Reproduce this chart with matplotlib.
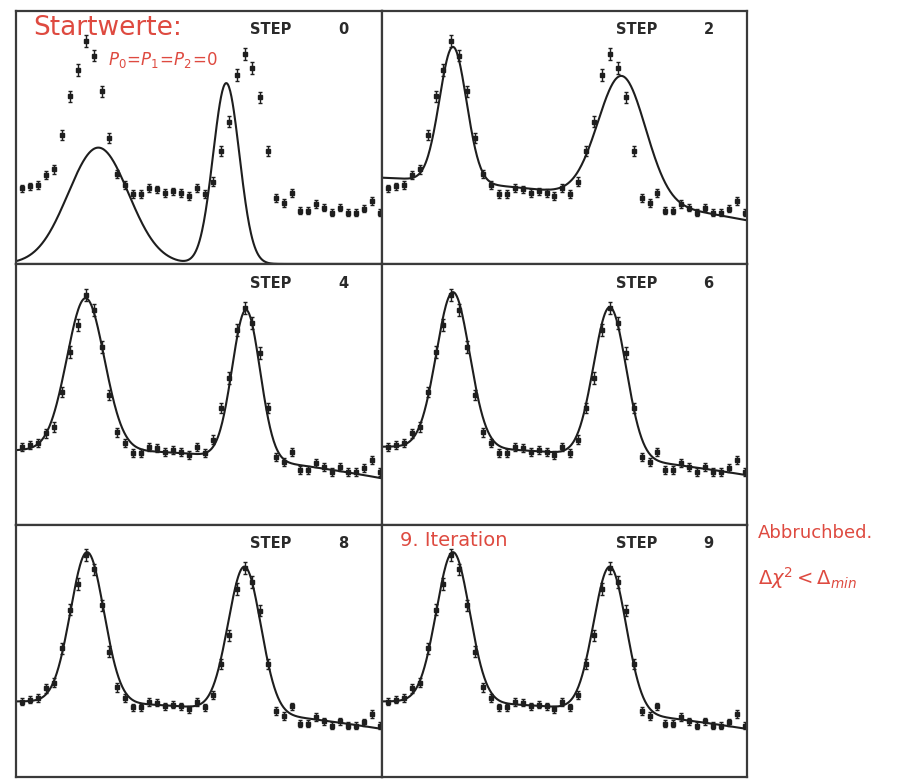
import numpy as np
import matplotlib
matplotlib.use("Agg")
import matplotlib.pyplot as plt

plt.rcParams.update({'font.family': 'DejaVu Sans', 'font.size': 10})

# measured spectrum (same data in every panel)
channel = np.arange(46)
counts = [29.9, 30.7, 31.4, 35.2, 37.5, 51.0, 66.3, 76.6, 88.1, 82.4,
          68.2, 49.8, 35.6, 31.4, 27.6, 27.6, 29.9, 29.5, 28.0, 28.7,
          28.0, 26.8, 29.9, 27.6, 32.6, 44.8, 56.3, 74.7, 83.1, 77.4,
          65.9, 44.8, 26.1, 24.1, 28.0, 21.1, 21.1, 23.8, 22.2, 20.3,
          22.2, 20.3, 20.3, 21.8, 24.9, 20.3]
errors = [1.5, 1.5, 1.6, 1.7, 1.8, 2.0, 2.2, 2.3, 2.4, 2.3,
          2.2, 2.0, 1.7, 1.6, 1.5, 1.5, 1.6, 1.5, 1.5, 1.5,
          1.5, 1.5, 1.6, 1.5, 1.7, 2.0, 2.2, 2.3, 2.4, 2.3,
          2.2, 2.0, 1.5, 1.5, 1.5, 1.4, 1.4, 1.5, 1.4, 1.4,
          1.4, 1.4, 1.4, 1.4, 1.5, 1.4]

# fit parameters per iteration step: quadratic background + two gaussians
steps = [0, 2, 4, 6, 8, 9]
p0 = [0.0, 34.0, 28.7, 30.0, 30.0, 30.0]
p1 = [0.0, -0.152, 0.0827, 0.0125, 0.0125, 0.0125]
p2 = [0.0, -0.0048, -0.0071, -0.0056, -0.0056, -0.0056]
amp1 = [46.0, 53.4, 58.0, 59.5, 59.5, 59.5]
mu1 = [9.6, 8.2, 8.0, 8.2, 8.2, 8.2]
sig1 = [3.8, 1.7, 2.35, 2.1, 2.1, 2.1]
amp2 = [71.5, 49.0, 57.0, 57.5, 57.5, 57.5]
mu2 = [25.7, 29.5, 28.2, 28.0, 28.0, 28.0]
sig2 = [1.65, 3.0, 1.75, 2.05, 2.05, 2.05]

W, H = 901, 779
fig = plt.figure(figsize=(W / 100, H / 100), dpi=100)

col_x = [(16, 382), (382, 747)]
row_y = [(11, 264), (264, 525), (525, 777)]

red = '#de4a40'
ink = '#1e1e1e'
xfine = np.linspace(-0.8, 45.4, 600)

for k, st in enumerate(steps):
    r, c = divmod(k, 2)
    (xl, xr), (yt, yb) = col_x[c], row_y[r]
    ax = fig.add_axes([xl / W, 1 - yb / H, (xr - xl) / W, (yb - yt) / H])
    model = (p0[k] + p1[k] * xfine + p2[k] * xfine ** 2
             + amp1[k] * np.exp(-0.5 * ((xfine - mu1[k]) / sig1[k]) ** 2)
             + amp2[k] * np.exp(-0.5 * ((xfine - mu2[k]) / sig2[k]) ** 2))
    ax.plot(xfine, model, color=ink, lw=1.5)
    ax.errorbar(channel, counts, yerr=errors, fmt='s', ms=2.6, color=ink,
                ecolor=ink, elinewidth=1.0, capsize=1.6, capthick=1.0)
    ax.set_xlim(-0.76, 45.3)
    ax.set_ylim(0, 100)
    ax.set_xticks([])
    ax.set_yticks([])
    for s in ax.spines.values():
        s.set_color('#3a3a3a')
        s.set_linewidth(1.6)
    ax.text(0.64, 0.925, 'STEP', transform=ax.transAxes, fontsize=10.5,
            fontweight='bold', color='#2a2a2a', ha='left', va='center')
    ax.text(0.895, 0.925, str(st), transform=ax.transAxes, fontsize=10.5,
            fontweight='bold', color='#2a2a2a', ha='center', va='center')

# handwritten red notes
fig.text(33 / W, 1 - 28 / H, 'Startwerte:', color=red, fontsize=19,
         ha='left', va='center')
fig.text(108 / W, 1 - 60 / H, r'$P_0\!=\!P_1\!=\!P_2\!=\!0$', color=red,
         fontsize=12, ha='left', va='center')
fig.text(400 / W, 1 - 540 / H, '9. Iteration', color=red, fontsize=14,
         ha='left', va='center')
fig.text(758 / W, 1 - 533 / H, 'Abbruchbed.', color=red, fontsize=13,
         ha='left', va='center')
fig.text(758 / W, 1 - 578 / H, r'$\Delta\chi^2 < \Delta_{min}$', color=red,
         fontsize=14, ha='left', va='center')

fig.savefig('out.png', dpi=100)
